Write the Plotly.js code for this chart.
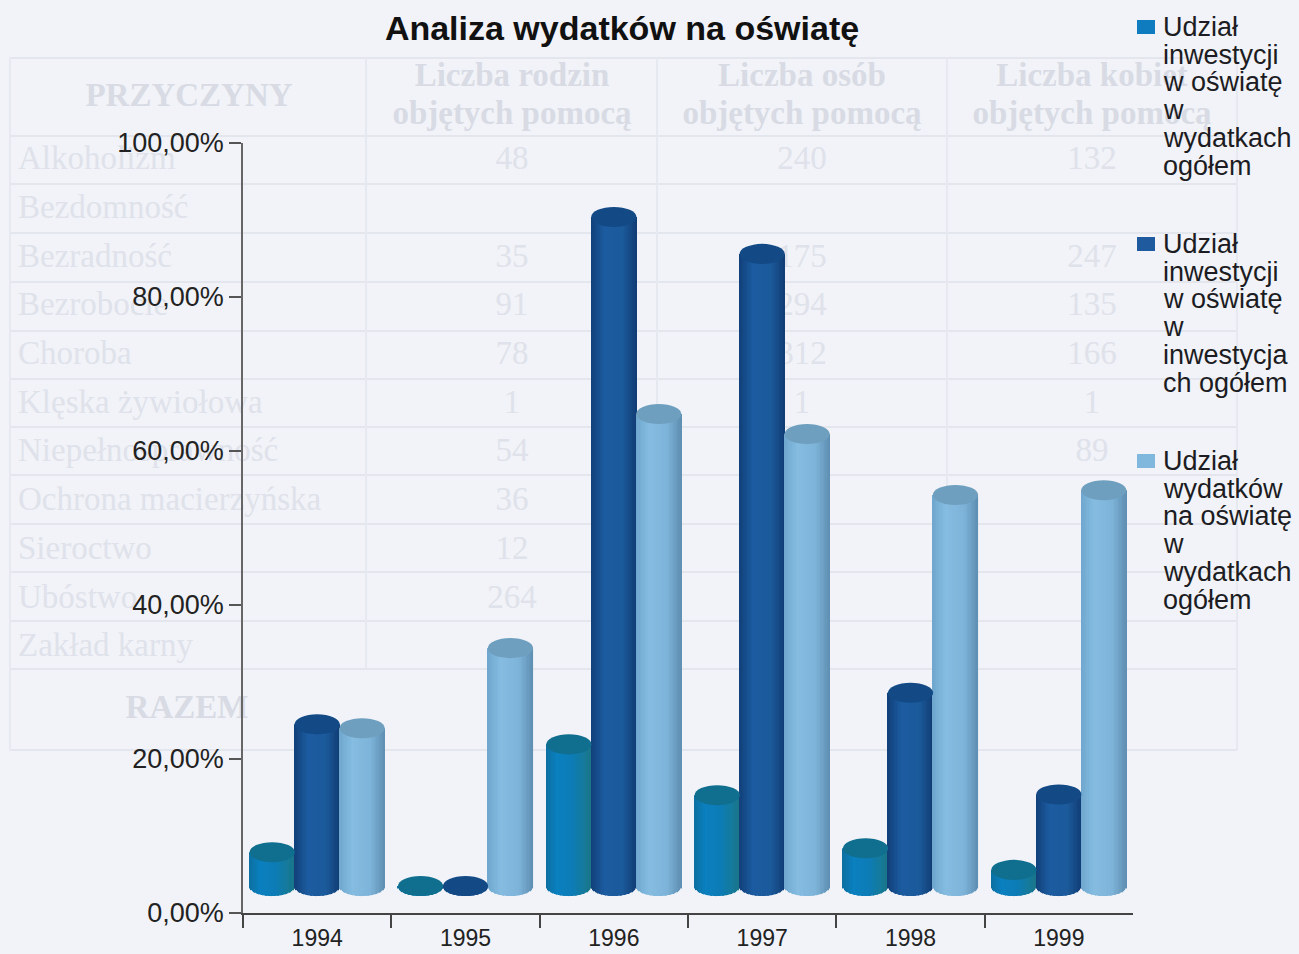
<!DOCTYPE html>
<html><head><meta charset="utf-8">
<script src="https://cdn.plot.ly/plotly-3.0.1.min.js"></script>
<style>html,body{margin:0;padding:0;background:#f1f3f8}</style></head>
<body><div id="chart" style="width:1299px;height:954px"></div>
<script>
// ---- chart data ----
const years = ['1994','1995','1996','1997','1998','1999'];
const seriesNames = [
  'Udział inwestycji w oświatę w wydatkach ogółem',
  'Udział inwestycji w oświatę w inwestycjach ogółem',
  'Udział wydatków na oświatę w wydatkach ogółem'
];
const inwestycjeWWydatkach = [4.4, 0, 18.4, 11.8, 4.9, 2.1];
const inwestycjeWInwestycjach = [21.0, 0, 86.9, 82.1, 25.1, 11.9];
const wydatkiWWydatkach = [20.5, 30.9, 61.3, 58.7, 50.8, 51.4];
const yTickVals = [0, 20, 40, 60, 80, 100];
const yTickText = ['0,00%', '20,00%', '40,00%', '60,00%', '80,00%', '100,00%'];
const legendLines = [
  ['Udział', 'inwestycji', 'w oświatę', 'w', 'wydatkach', 'ogółem'],
  ['Udział', 'inwestycji', 'w oświatę', 'w', 'inwestycja', 'ch ogółem'],
  ['Udział', 'wydatków', 'na oświatę', 'w', 'wydatkach', 'ogółem']
];
// ---- faint table showing through the scanned page ----
const rowNames = ['Alkoholizm','Bezdomność','Bezradność','Bezrobocie','Choroba','Klęska żywiołowa','Niepełnosprawność','Ochrona macierzyńska','Sieroctwo','Ubóstwo','Zakład karny'];
const col1 = ['48','','35','91','78','1','54','36','12','264',''];
const col2 = ['240','','175','294','312','1','','','','',''];
const col3 = ['132','','247','135','166','1','89','','','',''];
const headers = ['Liczba rodzin','objętych pomocą','Liczba osób','objętych pomocą','Liczba kobiet','objętych pomocą'];

// ---- styles and geometry ----
const allSeries = [inwestycjeWWydatkach, inwestycjeWInwestycjach, wydatkiWWydatkach];
const bodyStops = [
  [[0,'#0c6f9f'],[0.25,'#0a80c0'],[0.6,'#0d7cb5'],[0.85,'#157a9a'],[1,'#1a7486']],
  [[0,'#123f78'],[0.3,'#1c5ba0'],[0.7,'#1b5a9b'],[1,'#123d75']],
  [[0,'#6fa6cd'],[0.3,'#85bce0'],[0.7,'#7db3d8'],[1,'#5f8fb2']]
];
const capColors = ['#106f8f','#134a85','#6f9fbf'];
const swatchColors = ['#0f7cc0','#1f5a9e','#7fb8dc'];
const seriesOffset = [-0.303, 0, 0.303];
const cylWidth = 0.305, floorY = 3.5, capHalf = 1.3, strips = 34;
const W = 1299, H = 954;

function hex(c){return [1,3,5].map(i=>parseInt(c.substr(i,2),16));}
function shade(stops,t){
  for(let i=1;i<stops.length;i++){
    if(t<=stops[i][0]){
      const a=stops[i-1],b=stops[i],f=(t-a[0])/(b[0]-a[0]);
      const A=hex(a[1]),B=hex(b[1]);
      return 'rgb('+A.map((v,k)=>Math.round(v+(B[k]-v)*f)).join(',')+')';
    }
  }
  return stops[stops.length-1][1];
}

const traces = [];
// table text underneath the chart, on a hidden page-pixel subplot
const faint = '#dfe2ea', faintB = '#d8dbe4';
const rowY = rowNames.map((_,i)=>161+48.7*i);
traces.push({type:'scatter',mode:'text',x:rowNames.map(()=>18),y:rowY,text:rowNames,textposition:'middle right',
  textfont:{family:'Liberation Serif',size:33,color:faint},hoverinfo:'skip',showlegend:false,xaxis:'x',yaxis:'y'});
[[512,col1],[802,col2],[1092,col3]].forEach(([cx,col])=>{
  traces.push({type:'scatter',mode:'text',x:col.map(()=>cx),y:rowY,text:col,textposition:'middle center',
    textfont:{family:'Liberation Serif',size:33,color:faint},hoverinfo:'skip',showlegend:false,xaxis:'x',yaxis:'y'});
});
traces.push({type:'scatter',mode:'text',x:[512,512,802,802,1092,1092,189,187],y:[78,116,78,116,78,116,98,710],
  text:headers.concat(['PRZYCZYNY','RAZEM']),textposition:'middle center',
  textfont:{family:'Liberation Serif',size:33,weight:700,color:faintB},hoverinfo:'skip',showlegend:false,xaxis:'x',yaxis:'y'});

// cylinders: bars through the chart axes, one slice per shade
const shapes = [];
allSeries.forEach((vals,s)=>{
  const x=[],y=[],base=[],offset=[],width=[],color=[];
  vals.forEach((v,c)=>{
    for(let k=0;k<strips;k++){
      const t=(k+0.5)/strips,u=2*t-1,drop=capHalf*Math.sqrt(1-u*u);
      x.push(years[c]);
      base.push(floorY-drop);
      y.push(v+drop);
      offset.push(seriesOffset[s]-cylWidth/2+k*cylWidth/strips);
      width.push(cylWidth/strips);
      color.push(shade(bodyStops[s],t));
    }
    const cx=c+seriesOffset[s];
    shapes.push({type:'circle',xref:'x2',yref:'y2',x0:cx-cylWidth/2,x1:cx+cylWidth/2,
      y0:floorY+v-capHalf,y1:floorY+v+capHalf,fillcolor:capColors[s],line:{width:0},layer:'above'});
  });
  traces.push({type:'bar',name:seriesNames[s],x,y,base,offset,width,
    marker:{color,line:{width:0}},hoverinfo:'skip',showlegend:false,xaxis:'x2',yaxis:'y2'});
});

// table grid
[58,136,184,233,282,331,379,427,475,524,572,621,669,750].forEach(v=>shapes.push(
  {type:'line',xref:'x',yref:'y',x0:10,x1:1237,y0:v,y1:v,line:{color:'#e3e6ed',width:2},layer:'below'}));
[10,366,657,947,1237].forEach(v=>shapes.push(
  {type:'line',xref:'x',yref:'y',x0:v,x1:v,y0:58,y1:v===366||v===657||v===947?669:750,line:{color:'#e6e9ef',width:2},layer:'below'}));

// legend, drawn line by line with the tight leading of the original
const annotations = [];
const legendTop = [27,244,461];
legendLines.forEach((lines,s)=>{
  shapes.push({type:'rect',xref:'x',yref:'y',x0:1137,x1:1155,y0:legendTop[s]-7,y1:legendTop[s]+7,
    fillcolor:swatchColors[s],line:{width:0},layer:'above'});
  lines.forEach((txt,i)=>annotations.push({xref:'x',yref:'y',x:1161,y:legendTop[s]+i*27.7,text:txt,showarrow:false,
    xanchor:'left',yanchor:'middle',font:{family:'Liberation Sans',size:27,color:'#1c1c22'}}));
});

const layout = {
  width:W,height:H,margin:{l:0,r:0,t:0,b:0},paper_bgcolor:'#f1f3f8',plot_bgcolor:'rgba(0,0,0,0)',
  barmode:'overlay',showlegend:false,hovermode:false,dragmode:false,
  title:{text:'<b>Analiza wydatków na oświatę</b>',x:622/W,xanchor:'center',y:1-28/H,yanchor:'middle',
    font:{family:'Liberation Sans',size:34,color:'#111'}},
  xaxis:{domain:[0,1],range:[0,W],visible:false,fixedrange:true},
  yaxis:{domain:[0,1],range:[H,0],visible:false,fixedrange:true},
  xaxis2:{domain:[243/W,1133/W],anchor:'y2',type:'category',categoryorder:'array',categoryarray:years,
    range:[-0.5,5.5],tickson:'boundaries',ticks:'outside',ticklen:13,tickwidth:1.5,tickcolor:'#444',
    ticklabelstandoff:4,
    showline:true,linecolor:'#444',linewidth:1.5,showgrid:false,zeroline:false,
    tickfont:{family:'Liberation Sans',size:23,color:'#222'},fixedrange:true},
  yaxis2:{domain:[41/H,811/H],anchor:'x2',range:[0,100],tickmode:'array',tickvals:yTickVals,ticktext:yTickText,
    ticks:'outside',ticklen:12,tickwidth:1.5,tickcolor:'#555',showline:true,linecolor:'#666',linewidth:1.5,
    showgrid:false,zeroline:false,tickfont:{family:'Liberation Sans',size:27,color:'#222'},fixedrange:true},
  shapes,annotations
};
Plotly.newPlot('chart',traces,layout,{displayModeBar:false});
</script></body></html>
